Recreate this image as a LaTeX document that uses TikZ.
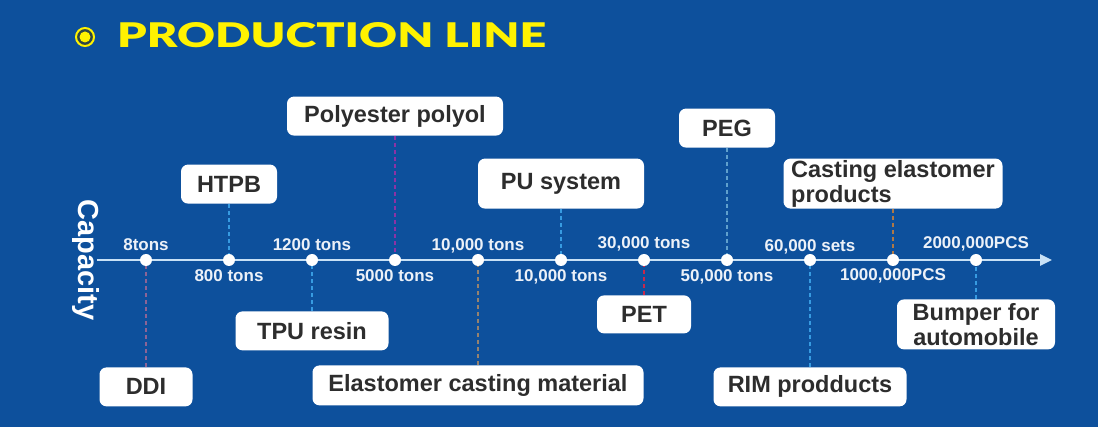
\documentclass[tikz,border=0pt]{standalone}
\usepackage{fontspec}
\setmainfont{Liberation Sans}
\newfontfamily\headfont{Lato Black}
\usepackage{xcolor}
\usepackage{tikz}
\usetikzlibrary{arrows.meta,positioning}

\definecolor{bgblue}{RGB}{13,80,156}
\definecolor{titleyellow}{RGB}{255,242,0}
\definecolor{ringgap}{RGB}{45,70,70}
\definecolor{boxtext}{RGB}{45,45,45}
\definecolor{tickwhite}{RGB}{236,241,248}
\definecolor{axisline}{RGB}{200,225,246}
\definecolor{skyblue}{RGB}{55,155,225}
\definecolor{pegblue}{RGB}{95,160,205}
\definecolor{mauve}{RGB}{140,100,150}
\definecolor{plum}{RGB}{140,50,165}
\definecolor{taupe}{RGB}{150,130,110}
\definecolor{rosered}{RGB}{200,40,75}
\definecolor{amber}{RGB}{175,120,70}

\begin{document}
\begin{tikzpicture}[
 x=1pt,y=-1pt,
 dot/.style={circle,fill=white,inner sep=0pt,minimum size=12pt},
 tick/.style={text=tickwhite,inner sep=0pt,text height=12pt,text depth=0pt,font=\fontsize{17}{17}\selectfont\bfseries},
 box/.style={fill=white,rounded corners=7pt,text=boxtext,inner sep=0pt,minimum height=39pt,font=\fontsize{23.5}{25}\selectfont\bfseries},
 lead/.style={draw=#1,line width=2pt,dash pattern=on 4pt off 3pt},
 axis/.style={draw=axisline,line width=2.5pt,-{Triangle[length=12pt,width=11pt]}}
]
\useasboundingbox (0,0) rectangle (1098,427);
\fill[bgblue] (0,0) rectangle (1098,427);

% heading
\node[circle,draw=titleyellow,line width=2pt,fill=ringgap,minimum size=18pt,inner sep=0pt] (mark) at (85,37) {};
\node[circle,fill=titleyellow,minimum size=11pt,inner sep=0pt] (markdot) at (mark) {};
\node[anchor=base west,inner sep=0pt,text=titleyellow] (title) at (117,48) {\resizebox{429pt}{25pt}{\headfont PRODUCTION LINE}};

% capacity axis
\node[rotate=-90,text=white,inner sep=0pt,font=\fontsize{29}{29}\selectfont\bfseries] (capacity) at (86,260) {Capacity};
\coordinate (axstart) at (97,260);
\coordinate (axend) at (1052,260);
\draw[axis] (axstart)--(axend);

\node[dot] (d1) at (146,260) {};
\node[dot,right=70.6pt of d1] (d2) {};
\node[dot,right=70.6pt of d2] (d3) {};
\node[dot,right=70.6pt of d3] (d4) {};
\node[dot,right=70.6pt of d4] (d5) {};
\node[dot,right=70.6pt of d5] (d6) {};
\node[dot,right=70.6pt of d6] (d7) {};
\node[dot,right=70.6pt of d7] (d8) {};
\node[dot,right=70.6pt of d8] (d9) {};
\node[dot,right=70.6pt of d9] (d10) {};
\node[dot,right=70.6pt of d10] (d11) {};

% capacities
\node[tick,above=3pt of d1] (t1) {8tons};
\node[tick,below=3pt of d2] (t2) {800 tons};
\node[tick,above=3pt of d3] (t3) {1200 tons};
\node[tick,below=3pt of d4] (t4) {5000 tons};
\node[tick,above=3pt of d5] (t5) {10,000 tons};
\node[tick,below=3pt of d6] (t6) {10,000 tons};
\node[tick,above=5pt of d7] (t7) {30,000 tons};
\node[tick,below=3pt of d8] (t8) {50,000 tons};
\node[tick,above=2pt of d9] (t9) {60,000 sets};
\node[tick,below=2pt of d10] (t10) {1000,000PCS};
\node[tick,above=5pt of d11] (t11) {2000,000PCS};

% products
\node[box,minimum width=93pt,below=101pt of d1] (ddi) {DDI};
\node[box,minimum width=96pt,above=50pt of d2] (htpb) {HTPB};
\node[box,minimum width=153pt,below=45pt of d3] (tpu) {TPU resin};
\node[box,minimum width=216pt,above=118pt of d4] (polyol) {Polyester polyol};
\node[box,minimum width=331pt,minimum height=40pt,below=99pt of d5] (elastomer) {Elastomer casting material};
\node[box,minimum width=166pt,minimum height=50pt,above=45pt of d6] (pusys) {PU system};
\node[box,minimum width=94pt,minimum height=38pt,below=29pt of d7] (pet) {PET};
\node[box,minimum width=96pt,above=106pt of d8] (peg) {PEG};
\node[box,minimum width=193pt,below=101pt of d9] (rim) {RIM prodducts};
\node[box,minimum width=219pt,minimum height=50pt,align=left,above=45pt of d10] (casting) {Casting elastomer\\products};
\node[box,minimum width=158pt,minimum height=50pt,align=center,below=33pt of d11] (bumper) {Bumper for\\automobile};

\draw[lead=mauve] (ddi)--(d1);
\draw[lead=skyblue] (htpb)--(d2);
\draw[lead=skyblue] (tpu)--(d3);
\draw[lead=plum] (polyol)--(d4);
\draw[lead=taupe] (elastomer)--(d5);
\draw[lead=skyblue] (pusys)--(d6);
\draw[lead=rosered] (pet)--(d7);
\draw[lead=pegblue] (peg)--(d8);
\draw[lead=skyblue] (rim)--(d9);
\draw[lead=amber] (casting)--(d10);
\draw[lead=skyblue] (bumper)--(d11);
\end{tikzpicture}
\end{document}
